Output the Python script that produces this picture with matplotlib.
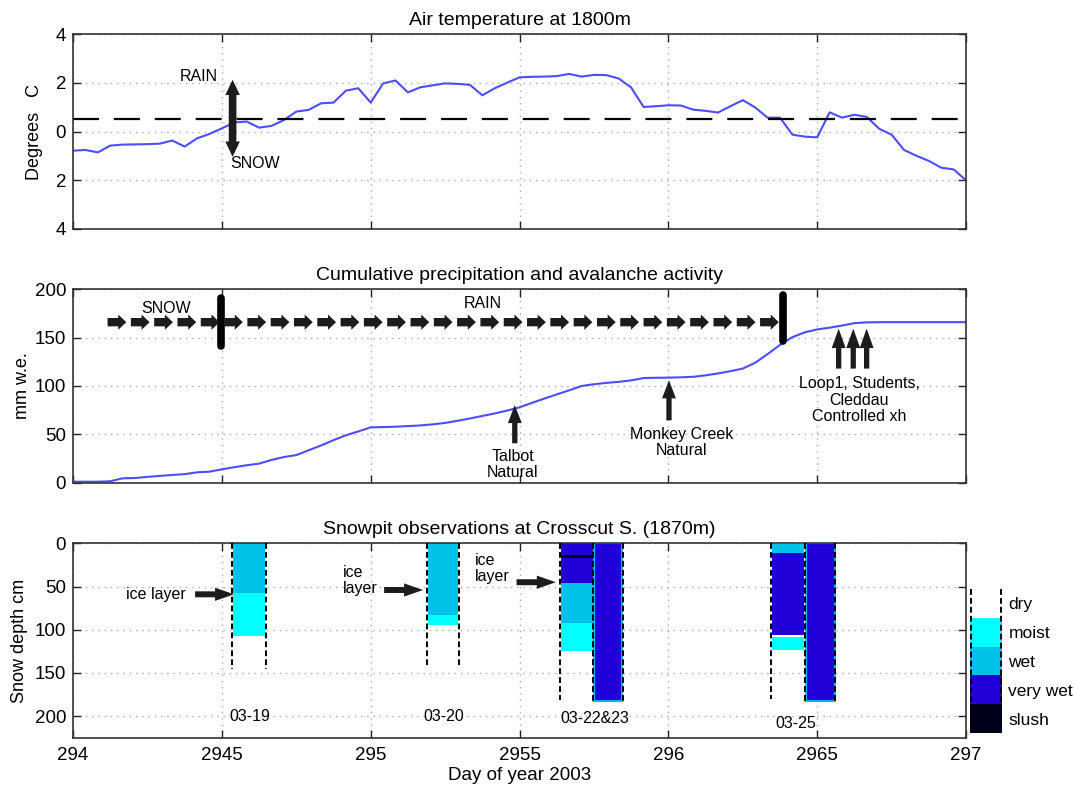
import numpy as np
import matplotlib.pyplot as plt

plt.rcParams["font.family"] = ["Liberation Sans", "DejaVu Sans"]

# hourly air temperature at 1800 m, day 294.0 .. 297.0
temp = [-0.79, -0.76, -0.86, -0.58, -0.54, -0.53, -0.52, -0.50, -0.37, -0.62, -0.28, -0.10,
        0.13, 0.37, 0.41, 0.16, 0.23, 0.47, 0.82, 0.89, 1.16, 1.19, 1.68, 1.78,
        1.19, 1.98, 2.10, 1.61, 1.82, 1.90, 1.98, 1.96, 1.92, 1.49, 1.78, 2.01,
        2.23, 2.25, 2.26, 2.28, 2.37, 2.26, 2.33, 2.32, 2.18, 1.81, 1.01, 1.04,
        1.08, 1.07, 0.90, 0.85, 0.78, 1.04, 1.29, 0.99, 0.57, 0.57, -0.13, -0.21,
        -0.24, 0.79, 0.57, 0.69, 0.60, 0.11, -0.13, -0.76, -1.00, -1.21, -1.49, -1.56, -2.01]

# hourly cumulative precipitation (mm w.e.)
precip = [1, 1, 1, 1.5, 4.5, 4.8, 6, 7, 8, 8.8, 10.7, 11.4,
          13.8, 16, 18, 19.7, 23.5, 26.5, 28.5, 33.5, 38.5, 44, 49, 53,
          57.2, 57.5, 57.9, 58.5, 59.2, 60.3, 61.8, 64, 66.4, 69, 71.6, 74.6,
          78, 82.5, 87, 91.3, 95.5, 100, 101.8, 103.2, 104.3, 105.8, 108.2, 108.5,
          108.6, 109, 109.5, 111, 113, 115.3, 118, 124, 133, 142.5, 150.5, 155.5,
          158.5, 160.3, 162.5, 165, 165.8, 166, 166, 166, 166, 166, 166, 166, 166]

days = 294 + np.arange(len(temp)) / 24.0
rain_snow_threshold = 0.5

# snowpits: edges in day of year, depth of dashed outline
pit_left = [294.535, 295.189, 295.636, 295.748, 296.345, 296.459]
pit_right = [294.647, 295.296, 295.748, 295.847, 296.459, 296.561]
pit_depth = [145, 143, 181, 182, 180, 183]

# layers: pit index, top depth, bottom depth, wetness class
layer_pit = [0, 0, 1, 1, 2, 2, 2, 2, 2, 3, 4, 4, 4, 5]
layer_top = [0, 57, 0, 83, 0, 14, 17.5, 46, 92, 0, 1, 11, 108, 0]
layer_bot = [57, 107, 83, 95, 14, 17.5, 46, 92, 125, 182, 11, 106, 124, 183]
layer_cls = ["wet", "moist", "wet", "moist", "very wet", "slush", "very wet", "wet", "moist",
             "very wet", "wet", "very wet", "moist", "very wet"]

classes = ["dry", "moist", "wet", "very wet", "slush"]
class_colors = {"dry": "white", "moist": "#00FFFF", "wet": "#00C2E8",
                "very wet": "#2200DA", "slush": "#00001A"}

pit_labels = ["03-19", "03-20", "03-22&23", "03-25"]
pit_label_x = [294.594, 295.247, 295.754, 296.429]
pit_label_y = [201, 201, 203, 208]

xticks = [294, 294.5, 295, 295.5, 296, 296.5, 297]
xtick_labels = ["294", "2945", "295", "2955", "296", "2965", "297"]

ARROW = "#1c1c1c"
LINE = "#4d4dff"
NOTE = 11.5


def arrow(ax, tail, tip, tw, hw, hl):
    ax.annotate("", xy=tip, xytext=tail,
                arrowprops=dict(arrowstyle=f"simple,head_length={hl},head_width={hw},tail_width={tw}",
                                color=ARROW, shrinkA=0, shrinkB=0, mutation_scale=1, lw=0))


def style(ax):
    ax.set_xlim(294, 297)
    ax.set_xticks(xticks)
    ax.set_axisbelow(True)
    ax.grid(True, color="#ababab", linestyle=(0, (1, 3.5)), linewidth=1)
    ax.tick_params(direction="in", length=5.5, width=1, top=True, right=True,
                   labelsize=13.5, pad=5, colors="#222222", labelcolor="black")
    for s in ax.spines.values():
        s.set_color("#333333")
        s.set_linewidth(1.2)


fig = plt.figure(figsize=(10.74, 7.87), dpi=100)
ax1 = fig.add_axes([0.068, 0.7094, 0.8315, 0.2470])
ax2 = fig.add_axes([0.068, 0.3867, 0.8315, 0.2457])
ax3 = fig.add_axes([0.068, 0.0626, 0.8315, 0.2470])

# ---- air temperature
style(ax1)
ax1.plot(days, temp, color=LINE, lw=1.5)
ax1.axhline(rain_snow_threshold, color="black", lw=1.6, dashes=(11.7, 6.7))
ax1.set_ylim(-4, 4)
ax1.set_yticks([4, 2, 0, -2, -4])
ax1.set_yticklabels(["4", "2", "0", "2", "4"])
ax1.set_xticklabels([])
ax1.set_title("Air temperature at 1800m", fontsize=14, pad=6.5)
ax1.set_ylabel("Degrees   C", fontsize=13)
ax1.yaxis.set_label_coords(-0.034, 0.5)
arrow(ax1, (294.536, 0.55), (294.536, 2.13), 5.5, 10.5, 11)
arrow(ax1, (294.536, 0.6), (294.536, -1.04), 5.5, 10.5, 11)
ax1.text(294.423, 2.27, "RAIN", fontsize=NOTE, ha="center", va="center")
ax1.text(294.613, -1.32, "SNOW", fontsize=NOTE, ha="center", va="center")

# ---- cumulative precipitation
style(ax2)
ax2.plot(days, precip, color=LINE, lw=1.5)
ax2.set_ylim(0, 200)
ax2.set_yticks([0, 50, 100, 150, 200])
ax2.set_xticklabels([])
ax2.set_title("Cumulative precipitation and avalanche activity", fontsize=14, pad=6.5)
ax2.set_ylabel("mm w.e.", fontsize=13)
ax2.yaxis.set_label_coords(-0.047, 0.5)
for x0 in np.linspace(294.116, 296.308, 29):
    arrow(ax2, (x0, 166), (x0 + 0.063, 166), 6, 11, 5.8)
ax2.plot([294.497, 294.497], [141.5, 191], color="black", lw=5.5, solid_capstyle="round")
ax2.plot([296.386, 296.386], [147, 194.5], color="black", lw=5.5, solid_capstyle="round")
ax2.text(294.313, 180.3, "SNOW", fontsize=NOTE, ha="center", va="center")
ax2.text(295.377, 185.5, "RAIN", fontsize=NOTE, ha="center", va="center")
arrow(ax2, (295.484, 40.7), (295.484, 80.3), 3.8, 10, 13)
ax2.text(295.478, 18.6, "Talbot\nNatural", fontsize=NOTE, ha="center", va="center",
         multialignment="center", linespacing=1.1)
arrow(ax2, (296.002, 64.5), (296.002, 105.9), 3.8, 10, 13)
ax2.text(296.044, 41.5, "Monkey Creek\nNatural", fontsize=NOTE, ha="center", va="center",
         multialignment="center", linespacing=1.1)
for xa in [296.572, 296.621, 296.666]:
    arrow(ax2, (xa, 118), (xa, 159.3), 3.8, 10, 14)
ax2.text(296.642, 85.5, "Loop1, Students,\nCleddau\nControlled xh", fontsize=NOTE,
         ha="center", va="center", multialignment="center", linespacing=1.1)

# ---- snowpits
style(ax3)
ax3.set_ylim(225, 0)
ax3.set_yticks([0, 50, 100, 150, 200])
ax3.set_xticklabels(xtick_labels)
ax3.tick_params(axis="x", pad=7)
ax3.set_title("Snowpit observations at Crosscut S. (1870m)", fontsize=14, pad=6.5)
ax3.set_ylabel("Snow depth cm", fontsize=13)
ax3.yaxis.set_label_coords(-0.050, 0.5)
ax3.set_xlabel("Day of year 2003", fontsize=13.5)
ax3.xaxis.set_label_coords(0.5, -0.15)

for p, t, b, c in zip(layer_pit, layer_top, layer_bot, layer_cls):
    x0, x1 = pit_left[p], pit_right[p]
    full = (t == 0 and b > 180)
    ax3.bar(x0 + 0.002, b - t, bottom=t, width=x1 - x0 - 0.004, align="edge",
            color=class_colors[c], edgecolor="#00B4F0" if full else "none",
            linewidth=1.5 if full else 0, zorder=2)
for x0, x1, d in zip(pit_left, pit_right, pit_depth):
    for xe in (x0, x1):
        ax3.plot([xe, xe], [0, d], color="black", lw=1.4, dashes=(3, 1.6), zorder=3)
for lab, lx, ly in zip(pit_labels, pit_label_x, pit_label_y):
    ax3.text(lx, ly, lab, fontsize=NOTE, ha="center", va="center")

ax3.text(294.380, 59, "ice layer", fontsize=NOTE, ha="right", va="center")
arrow(ax3, (294.41, 59), (294.541, 59), 4.3, 9.5, 13.7)
ax3.text(294.906, 43, "ice\nlayer", fontsize=NOTE, ha="left", va="center", linespacing=1.1)
arrow(ax3, (295.045, 54), (295.176, 54), 4.3, 9.5, 13.7)
ax3.text(295.351, 29.5, "ice\nlayer", fontsize=NOTE, ha="left", va="center", linespacing=1.1)
arrow(ax3, (295.49, 45), (295.622, 45), 4.3, 9.5, 13.7)

# ---- wetness legend
axl = fig.add_axes([970 / 1074, 1 - 733 / 787, 32 / 1074, 144 / 787])
axl.set_xlim(0, 1)
axl.set_ylim(len(classes), 0)
axl.axis("off")
for i, c in enumerate(classes):
    axl.bar(0, 1, bottom=i, width=1, align="edge", color=class_colors[c])
    axl.text(1.2, i + 0.55, c, fontsize=12.5, ha="left", va="center", clip_on=False)
for xe in (0.03, 0.97):
    axl.plot([xe, xe], [0, len(classes) - 1], color="black", lw=1.4, dashes=(3, 1.6))

fig.savefig("out.png", dpi=100)
